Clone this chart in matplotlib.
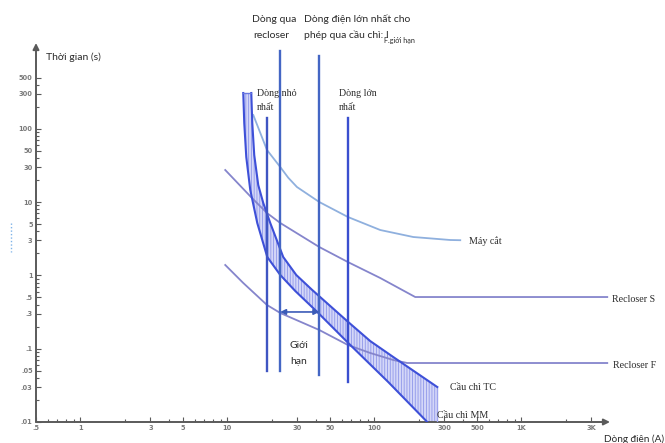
import matplotlib
matplotlib.use("Agg")
import matplotlib.pyplot as plt
from matplotlib.lines import Line2D
from matplotlib.ticker import FixedLocator, NullFormatter
import numpy as np

# ---------------- data ----------------
# Fuse band: minimum melting (MM) and total clearing (TC) curves
mm_current = [12.85, 13.05, 13.47, 14.34, 16.0, 18.72, 22.94, 29.01, 40.95, 66.55, 124.5, 229.4]
mm_time = [307.8, 120, 41.2, 14.63, 5.19, 1.78, 1.013, 0.613, 0.317, 0.1196, 0.0351, 0.01]
tc_current = [14.57, 14.80, 15.26, 16.25, 17.58, 19.61, 24.04, 29.47, 37.86, 50.2, 66.55, 93.93, 134.7, 190, 268.3]
tc_time = [307.8, 120, 43.9, 17.1, 9.72, 5.19, 1.78, 1.013, 0.632, 0.382, 0.231, 0.127, 0.077, 0.0481, 0.030]

# Breaker (Máy cắt)
mc_current = [15.03, 18.63, 22.94, 26.0, 29.79, 42.26, 66.24, 109.9, 184.2, 328.9, 384.6]
mc_time = [154.3, 51.4, 30.1, 21.5, 16.07, 10.03, 6.26, 4.16, 3.34, 3.04, 3.02]

# Recloser slow (S) and fast (F)
rs_current = [9.69, 14.72, 18.63, 22.94, 42.26, 66.24, 109.9, 190, 3846]
rs_time = [27.4, 11.37, 7.10, 5.19, 2.44, 1.52, 0.921, 0.507, 0.507]
rf_current = [9.69, 12.85, 18.63, 22.94, 42.26, 66.24, 93.93, 134.7, 167.7, 3846]
rf_time = [1.387, 0.788, 0.395, 0.307, 0.180, 0.1123, 0.0874, 0.0701, 0.0638, 0.0638]

# Vertical marker lines: current, top time, bottom time
vl_current = [18.7, 22.9, 42.3, 66.6]
vl_top = [140, 1151, 984, 140]
vl_bottom = [0.0497, 0.0497, 0.0438, 0.0351]

# Limit arrow
lim_from, lim_to, lim_time = 22.9, 42.3, 0.317

# Ticks
y_major = [0.01, 0.03, 0.05, 0.1, 0.3, 0.5, 1, 3, 5, 10, 30, 50, 100, 300, 500]
y_labels = [".01", ".03", ".05", ".1", ".3", ".5", "1", "3", "5", "10", "30", "50", "100", "300", "500"]
x_major = [0.5, 1, 3, 5, 10, 30, 50, 100, 300, 500, 1000, 3000]
x_labels = [".5", "1", "3", "5", "10", "30", "50", "100", "300", "500", "1K", "3K"]

# ---------------- figure ----------------
W, H = 665, 443
fig = plt.figure(figsize=(W / 100, H / 100), dpi=100)
x0, x1 = 36, 610      # pixel of axis start / arrow end
y0, y1 = 422, 43
ax = fig.add_axes([x0 / W, 1 - y0 / H, (x1 - x0) / W, (y0 - y1) / H])
ax.set_xscale("log")
ax.set_yscale("log")
ax.set_xlim(0.5, 10 ** (np.log10(0.5) + (x1 - x0) / 147.0))
ax.set_ylim(0.01, 10 ** (-2 + (y0 - y1) / 73.3))
for s in ax.spines.values():
    s.set_visible(False)
ax.patch.set_alpha(0)

axc = "#5a5a5a"
ax.annotate("", xy=(1, 0), xytext=(0, 0), xycoords="axes fraction",
            arrowprops=dict(arrowstyle="-|>", color=axc, lw=1.4, mutation_scale=9,
                            shrinkA=0, shrinkB=0), annotation_clip=False)
ax.annotate("", xy=(0, 1), xytext=(0, 0), xycoords="axes fraction",
            arrowprops=dict(arrowstyle="-|>", color=axc, lw=1.4, mutation_scale=9,
                            shrinkA=0, shrinkB=0), annotation_clip=False)

# ticks
ax.yaxis.set_major_locator(FixedLocator(y_major))
ax.set_yticklabels(y_labels)
ymin = []
for d in [0.01, 0.1, 1, 10, 100]:
    for k in range(1, 10):
        v = d * k
        if v <= 500 and v not in y_major:
            ymin.append(v)
ax.yaxis.set_minor_locator(FixedLocator(ymin))
ax.yaxis.set_minor_formatter(NullFormatter())
ax.xaxis.set_major_locator(FixedLocator(x_major))
ax.set_xticklabels(x_labels)
xmin = []
for d in [0.1, 1, 10, 100, 1000]:
    for k in range(1, 10):
        v = d * k
        if 0.5 < v <= 3000 and v not in x_major:
            xmin.append(v)
ax.xaxis.set_minor_locator(FixedLocator(xmin))
ax.xaxis.set_minor_formatter(NullFormatter())
ax.tick_params(which="both", direction="in", color=axc, width=0.8, labelcolor="#7a7a7a")
ax.tick_params(which="major", length=3.5, pad=2.5)
ax.tick_params(which="minor", length=2.0)
for lab in ax.get_xticklabels() + ax.get_yticklabels():
    lab.set_fontfamily("DejaVu Sans")
    lab.set_fontweight("bold")
    lab.set_fontsize(4.8)

# ---------------- fuse band ----------------
poly_x = list(mm_current) + [tc_current[-1]] + list(tc_current[::-1])
poly_y = list(mm_time) + [0.01] + list(tc_time[::-1])
ax.fill(poly_x, poly_y, facecolor="#d4d7f8", edgecolor="none", zorder=2)
plt.rcParams["hatch.linewidth"] = 0.6
ax.fill(poly_x, poly_y, facecolor="none", edgecolor="#8f97ea", hatch="||||||", lw=0, zorder=2)
ax.plot([tc_current[-1], tc_current[-1]], [0.01, tc_time[-1]], color="#9ea4ee", lw=1.0, zorder=3)
band_c = "#3e50d8"
ax.plot(mm_current, mm_time, color=band_c, lw=1.5, zorder=4, solid_joinstyle="round")
ax.plot(tc_current, tc_time, color=band_c, lw=1.5, zorder=4, solid_joinstyle="round")
ax.plot([mm_current[0], tc_current[0]], [mm_time[0], tc_time[0]], color="#6a78e0", lw=1.0, zorder=4)

# ---------------- other curves ----------------
ax.plot(mc_current, mc_time, color="#8fb0de", lw=1.3, zorder=3, solid_joinstyle="round")
ax.plot(rs_current, rs_time, color="#8585cc", lw=1.3, zorder=3, solid_joinstyle="round")
ax.plot(rf_current, rf_time, color="#8585cc", lw=1.3, zorder=3, solid_joinstyle="round")

vcols = ["#3f55c2", "#4466c4", "#4466c4", "#3a4fcf"]
for c, t, b, col in zip(vl_current, vl_top, vl_bottom, vcols):
    ax.plot([c, c], [b, t], color=col, lw=1.7, zorder=5)

ax.annotate("", xy=(lim_to, lim_time), xytext=(lim_from, lim_time),
            arrowprops=dict(arrowstyle="<|-|>", color="#3b5bb8", lw=1.2, mutation_scale=8,
                            shrinkA=0, shrinkB=0), zorder=6)

# ---------------- texts ----------------
sans = ["Lato", "Noto Sans", "DejaVu Sans"]
serif = ["Liberation Serif", "DejaVu Serif"]
tc_ = "#2b2b2b"

def px(x, y, s, fam, size, ha="left", **kw):
    fig.text(x / W, 1 - y / H, s, family=fam, fontsize=size, color=tc_, va="center", ha=ha, **kw)

px(46, 57, "Thời gian (s)", sans, 7.5)
px(664, 439, "Dòng điện (A)", sans, 7.2, ha="right")
px(252, 19, "Dòng qua", sans, 7.5)
px(253, 35, "recloser", sans, 7.5)
px(304, 19, "Dòng điện lớn nhất cho", sans, 7.5)
px(304, 35, "phép qua cầu chì: I", sans, 7.5)
px(384, 40, "F.giới hạn", sans, 5.2)
px(290, 346, "Giới", sans, 7.5)
px(290, 362, "hạn", sans, 7.5)

px(257, 94, "Dòng nhỏ", serif, 7.2)
px(257, 108, "nhất", serif, 7.2)
px(339, 94, "Dòng lớn", serif, 7.2)
px(339, 108, "nhất", serif, 7.2)
px(469, 241, "Máy cắt", serif, 7.2)
px(612, 300, "Recloser S", serif, 7.2)
px(613, 366, "Recloser F", serif, 7.2)
px(450, 387, "Cầu chì TC", serif, 7.2)
px(437, 415, "Cầu chì MM", serif, 7.2)

# small dotted artifact at left edge
fig.add_artist(Line2D([11 / W, 11 / W], [1 - 223 / H, 1 - 252 / H], color="#7fb3e8",
                      lw=1.0, ls=(0, (1, 1.5))))

fig.savefig("out.png", dpi=100)
